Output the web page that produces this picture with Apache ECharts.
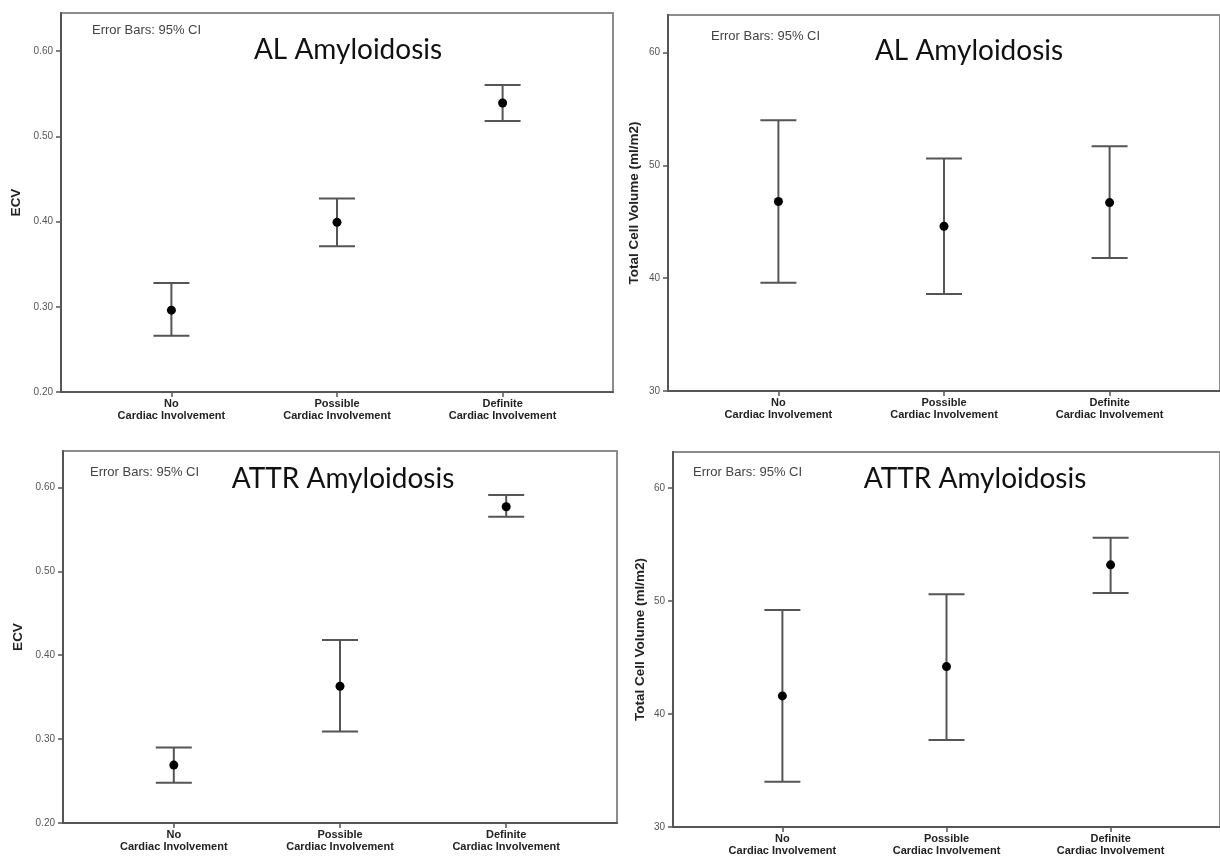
<!DOCTYPE html>
<html>
<head>
<meta charset="utf-8">
<script src="https://cdn.jsdelivr.net/npm/echarts@6/dist/echarts.min.js"></script>
<style>
html,body{margin:0;padding:0;background:#fff;}
#chart{width:1220px;height:860px;}
</style>
</head>
<body>
<div id="chart"></div>
<script>
// ---------- data ----------
const categories = ['No\nCardiac Involvement', 'Possible\nCardiac Involvement', 'Definite\nCardiac Involvement'];

const ecvTicks = [0.2, 0.3, 0.4, 0.5, 0.6];
const tcvTicks = [30, 40, 50, 60];

// ECV, AL amyloidosis
const ecvAlMean = [0.296, 0.399, 0.539];
const ecvAlLow  = [0.266, 0.371, 0.518];
const ecvAlHigh = [0.328, 0.427, 0.560];

// Total cell volume, AL amyloidosis
const tcvAlMean = [46.8, 44.6, 46.7];
const tcvAlLow  = [39.6, 38.6, 41.8];
const tcvAlHigh = [54.0, 50.6, 51.7];

// ECV, ATTR amyloidosis
const ecvAttrMean = [0.269, 0.363, 0.577];
const ecvAttrLow  = [0.248, 0.309, 0.565];
const ecvAttrHigh = [0.290, 0.418, 0.591];

// Total cell volume, ATTR amyloidosis
const tcvAttrMean = [41.6, 44.2, 53.2];
const tcvAttrLow  = [34.0, 37.7, 50.7];
const tcvAttrHigh = [49.2, 50.6, 55.6];

const panelTitles = ['AL Amyloidosis', 'AL Amyloidosis', 'ATTR Amyloidosis', 'ATTR Amyloidosis'];
const errorNote = 'Error Bars: 95% CI';
const ecvName = 'ECV';
const tcvName = 'Total Cell Volume (ml/m2)';

// ---------- layout ----------
const catPos = i => 2 + 3 * i;   // category i placed on a 0..10 x scale
const catTicks = categories.map((c, i) => catPos(i));

const panels = [
  {grid:{left:61, top:13, width:552, height:379}, yMin:0.2, yMax:0.6446, ticks:ecvTicks, dec:2, name:ecvName, gap:38,
   mean:ecvAlMean, low:ecvAlLow, high:ecvAlHigh, title:[348,50], note:[92,31]},
  {grid:{left:668, top:15, width:555, height:376}, yMin:30, yMax:63.33, ticks:tcvTicks, dec:0, name:tcvName, gap:27,
   mean:tcvAlMean, low:tcvAlLow, high:tcvAlHigh, title:[969,51], note:[711,37]},
  {grid:{left:63, top:451, width:554, height:372}, yMin:0.2, yMax:0.6434, ticks:ecvTicks, dec:2, name:ecvName, gap:38,
   mean:ecvAttrMean, low:ecvAttrLow, high:ecvAttrHigh, title:[343,479], note:[90,473]},
  {grid:{left:673, top:452, width:552, height:375}, yMin:30, yMax:63.19, ticks:tcvTicks, dec:0, name:tcvName, gap:26,
   mean:tcvAttrMean, low:tcvAttrLow, high:tcvAttrHigh, title:[975,479], note:[693,473]}
];

const sans = '"Liberation Sans", Arial, Helvetica, sans-serif';
const lineCol = '#555';

const option = {
  animation: false,
  backgroundColor: '#fff',
  grid: [], xAxis: [], yAxis: [], series: [], graphic: []
};

panels.forEach((p, k) => {
  option.grid.push(Object.assign({show:true, borderColor:'#8c8c8c', borderWidth:2, backgroundColor:'#fff'}, p.grid));
  option.xAxis.push({
    type:'value', gridIndex:k, min:0, max:10,
    axisLine:{show:true, onZero:false, lineStyle:{color:lineCol, width:2}},
    axisTick:{show:true, customValues:catTicks, length:5, lineStyle:{color:lineCol, width:1.5}},
    axisLabel:{customValues:catTicks, margin:6, fontFamily:sans, fontSize:11, fontWeight:'bold', color:'#222', lineHeight:12,
      formatter: v => categories[Math.round((v - 2) / 3)] || ''},
    splitLine:{show:false}
  });
  option.yAxis.push({
    type:'value', gridIndex:k, min:p.yMin, max:p.yMax,
    name:p.name, nameLocation:'middle', nameGap:p.gap,
    nameTextStyle:{fontFamily:sans, fontSize:13.5, fontWeight:'bold', color:'#222'},
    axisLine:{show:true, lineStyle:{color:lineCol, width:2}},
    axisTick:{show:true, customValues:p.ticks, length:5, lineStyle:{color:lineCol, width:1.5}},
    axisLabel:{customValues:p.ticks, margin:8, fontFamily:sans, fontSize:10, color:'#555',
      formatter: v => v.toFixed(p.dec)},
    splitLine:{show:false}
  });
  option.series.push({
    type:'custom', xAxisIndex:k, yAxisIndex:k,
    data: p.mean.map((m, i) => [catPos(i), p.low[i], p.high[i]]),
    renderItem: (params, api) => {
      const x = api.value(0);
      const lo = api.coord([x, api.value(1)]);
      const hi = api.coord([x, api.value(2)]);
      const hw = 18;
      const st = {stroke:'#555', lineWidth:2};
      return {type:'group', children:[
        {type:'line', shape:{x1:lo[0], y1:lo[1], x2:hi[0], y2:hi[1]}, style:st},
        {type:'line', shape:{x1:hi[0]-hw, y1:hi[1], x2:hi[0]+hw, y2:hi[1]}, style:st},
        {type:'line', shape:{x1:lo[0]-hw, y1:lo[1], x2:lo[0]+hw, y2:lo[1]}, style:st}
      ]};
    },
    z:2
  });
  option.series.push({
    type:'scatter', xAxisIndex:k, yAxisIndex:k, symbol:'circle', symbolSize:9,
    itemStyle:{color:'#000', opacity:1},
    data: p.mean.map((m, i) => [catPos(i), m]),
    z:3
  });
  option.graphic.push({
    type:'text', left:p.note[0], top:p.note[1] - 7, z:10,
    style:{text:errorNote, font:'13px ' + sans, fill:'#444'}
  });
  option.graphic.push({
    type:'text', x:p.title[0], y:p.title[1], z:10,
    style:{text:panelTitles[k], font:'28px Lato, "Open Sans", sans-serif', fill:'#111', textAlign:'center', textVerticalAlign:'middle'}
  });
});

const chart = echarts.init(document.getElementById('chart'), null, {renderer:'canvas'});
chart.setOption(option);
</script>
</body>
</html>
